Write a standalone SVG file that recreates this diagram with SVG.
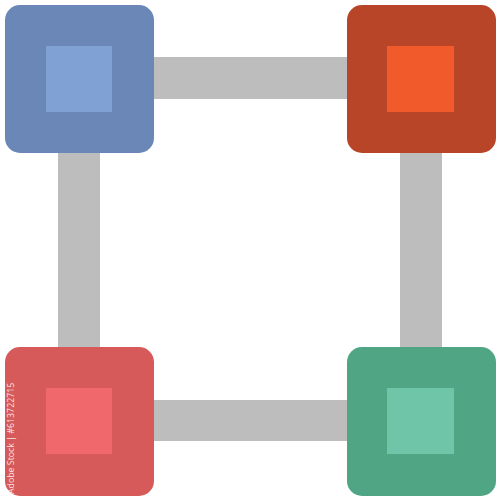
<svg xmlns="http://www.w3.org/2000/svg" width="500" height="500" viewBox="0 0 500 500">
<style>
.bar{fill:#bdbdbd}
.wm{font-family:"Open Sans","Liberation Sans",sans-serif;font-size:8.8px;fill:#ffffff;fill-opacity:0.85}
</style>
<rect width="500" height="500" fill="#ffffff"/>
<g id="connectors">
<rect class="bar" x="150" y="57" width="200" height="42"/>
<rect class="bar" x="150" y="400" width="200" height="41"/>
<rect class="bar" x="58" y="150" width="42" height="200"/>
<rect class="bar" x="400" y="150" width="42" height="200"/>
</g>
<g id="node-tl">
<rect x="5" y="5" width="149" height="148" rx="15" fill="#6a87b8"/>
<rect x="46" y="46" width="66" height="66" fill="#80a1d3"/>
</g>
<g id="node-tr">
<rect x="347" y="5" width="149" height="148" rx="15" fill="#b84527"/>
<rect x="387" y="46" width="67" height="66" fill="#f15b2b"/>
</g>
<g id="node-bl">
<rect x="5" y="347" width="149" height="149" rx="15" fill="#d65a5a"/>
<rect x="46" y="388" width="66" height="66" fill="#f0686b"/>
</g>
<g id="node-br">
<rect x="347" y="347" width="149" height="149" rx="15" fill="#4fa584"/>
<rect x="387" y="388" width="67" height="66" fill="#6ec5a7"/>
</g>
<text class="wm" transform="translate(14,494) rotate(-90)">Adobe Stock | #613722715</text>
</svg>
